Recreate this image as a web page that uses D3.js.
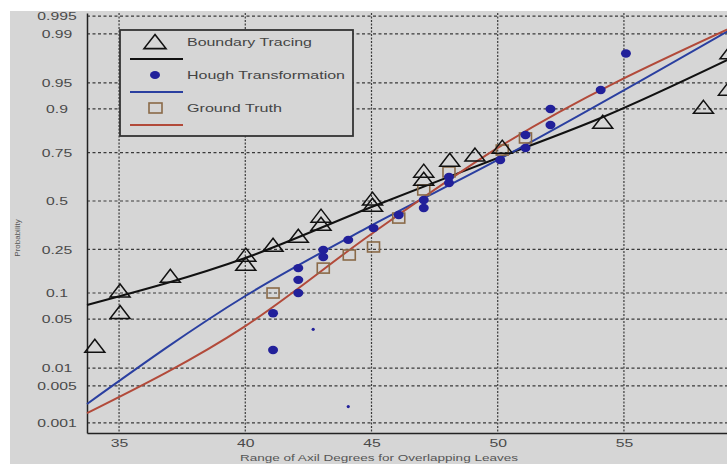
<!DOCTYPE html>
<html>
<head>
<meta charset="utf-8">
<script src="https://cdn.jsdelivr.net/npm/d3@7/dist/d3.min.js"></script>
<style>
  html, body { margin: 0; padding: 0; background: #fff; }
  svg { display: block; }
  text { font-family: "Liberation Sans", Arial, sans-serif; }
</style>
</head>
<body>
<div id="chart"></div>
<script>
// ── 1. Data ───────────────────────────────────────
const xTicks = [35, 40, 45, 50, 55];
const pTicks = [0.001, 0.005, 0.01, 0.05, 0.1, 0.25, 0.5, 0.75, 0.9, 0.95, 0.99, 0.995];

// Boundary Tracing (triangles)
const btX = [34.04, 35.04, 35.04, 37.03, 40.02, 40.02, 41.1, 42.1, 43.0, 43.0, 45.04, 45.04,
             47.07, 47.07, 48.1, 49.1, 50.18, 54.16, 58.15, 59.14, 59.2];
const btP = [0.021, 0.059, 0.103, 0.145, 0.186, 0.222, 0.265, 0.308, 0.369, 0.412, 0.472, 0.506,
             0.615, 0.657, 0.711, 0.735, 0.770, 0.861, 0.902, 0.939, 0.980];

// Hough Transformation (dots)
const htX = [41.1, 41.1, 42.1, 42.1, 42.1, 43.09, 43.09, 44.08, 45.08, 46.08, 47.07, 47.07,
             48.07, 48.07, 50.1, 51.1, 51.1, 52.09, 52.09, 54.08, 55.08];
const htP = [0.019, 0.059, 0.100, 0.136, 0.175, 0.218, 0.248, 0.294, 0.353, 0.423, 0.461, 0.506,
             0.599, 0.631, 0.716, 0.770, 0.821, 0.855, 0.900, 0.939, 0.980];
const htStrayX = [42.69, 44.08];
const htStrayP = [0.037, 0.0021];

// Ground Truth (squares)
const gtX = [41.1, 43.09, 44.12, 45.08, 46.08, 47.07, 48.07, 50.18, 51.1];
const gtP = [0.100, 0.175, 0.226, 0.261, 0.406, 0.561, 0.657, 0.761, 0.810];

// Fitted reference lines
const btLineX = [33.73, 40.0, 45.0, 50.0, 54.08, 59.4];
const btLineP = [0.0738, 0.2136, 0.4666, 0.7254, 0.876, 0.978];
const htLineX = [33.73, 40.0, 44.66, 50.0, 59.4];
const htLineP = [0.00235, 0.0929, 0.343, 0.716, 0.9923];
const gtLineX = [33.73, 40.0, 44.94, 50.0, 59.4];
const gtLineP = [0.00157, 0.0408, 0.318, 0.770, 0.9926];

const seriesNames = ["Boundary Tracing", "Hough Transformation", "Ground Truth"];

// ── 2. Inverse normal CDF (Acklam) ────────────────
function probit(p) {
  const a = [-3.969683028665376e+01, 2.209460984245205e+02, -2.759285104469687e+02,
             1.383577518672690e+02, -3.066479806614716e+01, 2.506628277459239e+00];
  const b = [-5.447609879822406e+01, 1.615858368580409e+02, -1.556989798598866e+02,
             6.680131188771972e+01, -1.328068155288572e+01];
  const c = [-7.784894002430293e-03, -3.223964580411365e-01, -2.400758277161838e+00,
             -2.549732539343734e+00, 4.374664141464968e+00, 2.938163982698783e+00];
  const d = [7.784695709041462e-03, 3.224671290700398e-01, 2.445134137142996e+00,
             3.754408661907416e+00];
  const pl = 0.02425;
  let q, r;
  if (p < pl) {
    q = Math.sqrt(-2 * Math.log(p));
    return (((((c[0]*q+c[1])*q+c[2])*q+c[3])*q+c[4])*q+c[5]) / ((((d[0]*q+d[1])*q+d[2])*q+d[3])*q+1);
  }
  if (p > 1 - pl) {
    q = Math.sqrt(-2 * Math.log(1 - p));
    return -(((((c[0]*q+c[1])*q+c[2])*q+c[3])*q+c[4])*q+c[5]) / ((((d[0]*q+d[1])*q+d[2])*q+d[3])*q+1);
  }
  q = p - 0.5; r = q * q;
  return (((((a[0]*r+a[1])*r+a[2])*r+a[3])*r+a[4])*r+a[5])*q / (((((b[0]*r+b[1])*r+b[2])*r+b[3])*r+b[4])*r+1);
}

// ── 3. Layout ─────────────────────────────────────
const W = 727, H = 464;
const plot = { left: 87, right: 735, top: 13, bottom: 433 };
const STRETCH = 1.5;   // the source picture is squashed wide

const svg = d3.select("#chart").append("svg")
  .attr("width", W).attr("height", H);

svg.append("rect").attr("x", 10).attr("y", 11)
  .attr("width", W - 10).attr("height", H - 11)
  .attr("fill", "#d6d6d6");

const x = d3.scaleLinear().domain([33.73, 59.4]).range([plot.left, plot.right]);
const z = d3.scaleLinear().domain([-3.231, 2.618]).range([plot.bottom, plot.top]);
const y = p => z(probit(p));

// wide marker shapes
const triPath = (w, h) => `M0,${-h * 0.6}L${w / 2},${h * 0.4}L${-w / 2},${h * 0.4}Z`;

// ── 4. Grid ───────────────────────────────────────
const grid = svg.append("g");
pTicks.forEach(p => {
  grid.append("line")
    .attr("x1", plot.left).attr("x2", W)
    .attr("y1", y(p)).attr("y2", y(p))
    .attr("stroke", "#3a3a3a").attr("stroke-width", 1.2)
    .attr("stroke-dasharray", "3,2.5");
});
xTicks.forEach(t => {
  grid.append("line")
    .attr("x1", x(t)).attr("x2", x(t))
    .attr("y1", plot.top).attr("y2", plot.bottom)
    .attr("stroke", "#3a3a3a").attr("stroke-width", 1.2)
    .attr("stroke-dasharray", "2,1.5");
});

// ── 5. Axes ───────────────────────────────────────
const yAxis = d3.axisLeft(z)
  .tickValues(pTicks.map(probit))
  .tickFormat((d, i) => String(pTicks[i]))
  .tickSize(0).tickPadding(0);
const gy = svg.append("g").attr("transform", `translate(${plot.left},0)`).call(yAxis);
gy.select(".domain").attr("stroke", "#222").attr("stroke-width", 1.5);
gy.selectAll(".tick text")
  .attr("x", 0).attr("dy", "0.35em")
  .attr("text-anchor", "middle")
  .attr("transform", `translate(${57 - plot.left},0) scale(${STRETCH},1)`)
  .attr("fill", "#4a4a4a").attr("font-size", "10.5px");

const xAxis = d3.axisBottom(x).tickValues(xTicks).tickSize(0).tickPadding(7);
const gx = svg.append("g").attr("transform", `translate(0,${plot.bottom})`).call(xAxis);
gx.select(".domain").attr("stroke", "#222").attr("stroke-width", 1.5);
gx.selectAll(".tick text")
  .attr("transform", `scale(${STRETCH},1)`)
  .attr("fill", "#4a4a4a").attr("font-size", "10.5px");

svg.append("text")
  .attr("x", 240).attr("y", 461)
  .attr("textLength", 278).attr("lengthAdjust", "spacingAndGlyphs")
  .attr("fill", "#555").attr("font-size", "9.5px")
  .text("Range of Axil Degrees for Overlapping Leaves");

svg.append("text")
  .attr("transform", "translate(20,238) rotate(-90)")
  .attr("text-anchor", "middle")
  .attr("fill", "#555").attr("font-size", "8px")
  .text("Probability");

// ── 6. Fit lines ──────────────────────────────────
const line = d3.line().x(d => x(d[0])).y(d => y(d[1])).curve(d3.curveMonotoneX);
const fits = [
  { xs: btLineX, ps: btLineP, color: "#111111" },
  { xs: htLineX, ps: htLineP, color: "#2a3fa0" },
  { xs: gtLineX, ps: gtLineP, color: "#b24a3a" },
];
fits.forEach(f => {
  svg.append("path")
    .datum(f.xs.map((v, i) => [v, f.ps[i]]))
    .attr("d", line)
    .attr("fill", "none")
    .attr("stroke", f.color)
    .attr("stroke-width", 2);
});

// ── 7. Markers ────────────────────────────────────
svg.append("g").selectAll("rect")
  .data(gtX.map((v, i) => [v, gtP[i]]))
  .join("rect")
  .attr("x", d => x(d[0]) - 6).attr("y", d => y(d[1]) - 5)
  .attr("width", 12).attr("height", 10)
  .attr("fill", "none").attr("stroke", "#8a6a48").attr("stroke-width", 1.6);

svg.append("g").selectAll("ellipse")
  .data(htX.map((v, i) => [v, htP[i]]))
  .join("ellipse")
  .attr("cx", d => x(d[0])).attr("cy", d => y(d[1]))
  .attr("rx", 5).attr("ry", 4.2).attr("fill", "#22209a");

svg.append("g").selectAll("circle")
  .data(htStrayX.map((v, i) => [v, htStrayP[i]]))
  .join("circle")
  .attr("cx", d => x(d[0])).attr("cy", d => y(d[1]))
  .attr("r", 1.6).attr("fill", "#22209a");

svg.append("g").selectAll("path")
  .data(btX.map((v, i) => [v, btP[i]]))
  .join("path")
  .attr("transform", d => `translate(${x(d[0])},${y(d[1])})`)
  .attr("d", triPath(20, 13))
  .attr("fill", "none").attr("stroke", "#111").attr("stroke-width", 1.5)
  .attr("stroke-linejoin", "miter");

// ── 8. Legend ─────────────────────────────────────
const lg = svg.append("g");
lg.append("rect")
  .attr("x", 120).attr("y", 30).attr("width", 233).attr("height", 106)
  .attr("fill", "#d6d6d6").attr("stroke", "#333").attr("stroke-width", 1.8);

const rowY = [42, 75, 108];
const lineColors = ["#111111", "#2a3fa0", "#b24a3a"];
const textLens = [125, 158, 95];
lg.append("path").attr("transform", `translate(155,${rowY[0] + 1})`).attr("d", triPath(22, 14))
  .attr("fill", "none").attr("stroke", "#111").attr("stroke-width", 1.6);
lg.append("ellipse").attr("cx", 155).attr("cy", rowY[1]).attr("rx", 5).attr("ry", 4).attr("fill", "#22209a");
lg.append("rect").attr("x", 149).attr("y", rowY[2] - 5).attr("width", 13).attr("height", 10)
  .attr("fill", "none").attr("stroke", "#8a6a48").attr("stroke-width", 1.6);

seriesNames.forEach((name, i) => {
  lg.append("line")
    .attr("x1", 130).attr("x2", 183)
    .attr("y1", rowY[i] + 17).attr("y2", rowY[i] + 17)
    .attr("stroke", lineColors[i]).attr("stroke-width", 2);
  lg.append("text")
    .attr("x", 187).attr("y", rowY[i] + 4)
    .attr("textLength", textLens[i]).attr("lengthAdjust", "spacingAndGlyphs")
    .attr("fill", "#444").attr("font-size", "10.5px")
    .text(name);
});
</script>
</body>
</html>
